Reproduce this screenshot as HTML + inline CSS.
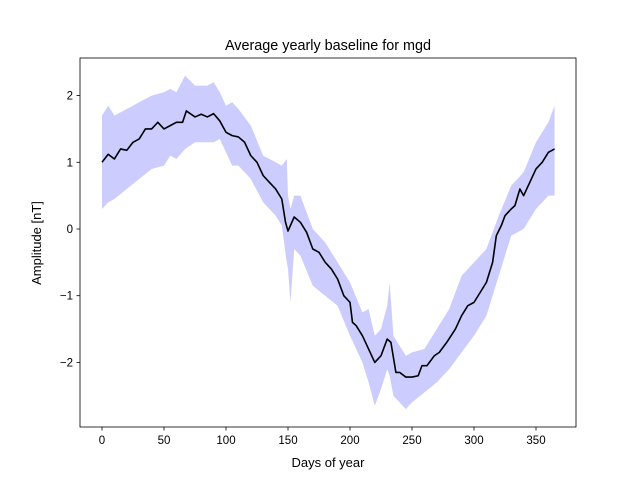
<!DOCTYPE html>
<html><head><meta charset="utf-8"><style>
body{margin:0;background:#fff;}
svg{display:block;font-family:"Liberation Sans","DejaVu Sans",sans-serif;}
</style></head><body>
<svg id="chart" width="640" height="480" viewBox="0 0 640 480">
<rect width="640" height="480" fill="#fff"/>
<text x="328" y="50" text-anchor="middle" font-size="14.4">Average yearly baseline for mgd</text>
<g id="plot"></g>
<text x="328" y="467" text-anchor="middle" font-size="13">Days of year</text>
<text transform="translate(41,243) rotate(-90)" text-anchor="middle" font-size="13">Amplitude [nT]</text>
</svg>
<script>
const meanDays=[0,5,10,15,20,25,30,35,40,45,50,55,60,65,68,75,80,85,90,95,100,105,110,115,120,125,130,135,140,145,148,150,155,160,165,170,175,180,185,190,195,200,202,205,210,215,220,225,230,233,237,240,245,250,255,258,262,268,272,278,285,290,295,300,305,310,315,318,322,325,330,333,337,340,345,350,355,360,365];
const meanVals=[1.0,1.12,1.05,1.2,1.18,1.3,1.35,1.5,1.5,1.6,1.5,1.55,1.6,1.6,1.77,1.68,1.72,1.68,1.73,1.62,1.45,1.4,1.38,1.3,1.1,1.0,0.8,0.7,0.6,0.45,0.1,-0.03,0.18,0.1,-0.05,-0.3,-0.35,-0.5,-0.6,-0.75,-1.0,-1.1,-1.4,-1.45,-1.6,-1.8,-2.0,-1.9,-1.65,-1.7,-2.15,-2.15,-2.22,-2.22,-2.2,-2.05,-2.05,-1.9,-1.85,-1.7,-1.5,-1.3,-1.15,-1.1,-0.95,-0.8,-0.5,-0.1,0.05,0.2,0.3,0.35,0.6,0.5,0.7,0.9,1.0,1.15,1.2];
const bandDays=[0,5,10,20,30,40,50,55,60,67,75,85,90,95,100,105,110,120,130,140,145,149,150,152,155,160,170,180,190,200,210,215,220,225,230,232,235,240,245,250,260,270,280,290,300,310,320,330,340,350,360,365];
const upperVals=[1.7,1.85,1.7,1.8,1.9,2.0,2.05,2.1,2.05,2.3,2.15,2.15,2.2,2.05,1.85,1.9,1.8,1.55,1.1,1.0,0.95,1.05,0.5,0.3,0.5,0.5,0,-0.2,-0.5,-0.8,-1.25,-1.2,-1.6,-1.5,-1.15,-0.8,-1.6,-1.75,-1.9,-1.85,-1.8,-1.5,-1.2,-0.7,-0.5,-0.3,0.2,0.65,0.85,1.3,1.6,1.85];
const lowerVals=[0.3,0.4,0.45,0.6,0.75,0.9,0.95,1.1,1.05,1.2,1.3,1.3,1.3,1.35,1.15,0.95,0.95,0.75,0.4,0.2,0.05,-0.5,-0.6,-1.1,-0.3,-0.4,-0.85,-1.0,-1.15,-1.6,-2.0,-2.3,-2.65,-2.4,-2.1,-2.2,-2.5,-2.6,-2.7,-2.6,-2.45,-2.3,-2.1,-1.85,-1.6,-1.3,-0.7,-0.1,0,0.3,0.5,0.5];
const xTicks=[0,50,100,150,200,250,300,350];
const yTicks=[-2,-1,0,1,2];

const L=80,R=576,T=58,B=427;
const xs=d=>102+d*1.24;
const ys=v=>229-v*66.7;
const NS="http://www.w3.org/2000/svg";
const g=document.getElementById('plot');
function mk(t,a){const e=document.createElementNS(NS,t);for(const k in a)e.setAttribute(k,a[k]);g.appendChild(e);return e;}

let pts=bandDays.map((d,i)=>xs(d)+','+ys(upperVals[i]));
for(let i=bandDays.length-1;i>=0;i--)pts.push(xs(bandDays[i])+','+ys(lowerVals[i]));
const band=mk('polygon',{points:pts.join(' '),fill:'#ccccff',stroke:'none'});



const line=mk('polyline',{points:meanDays.map((d,i)=>xs(d)+','+ys(meanVals[i])).join(' '),fill:'none',stroke:'#000','stroke-width':1.6,'stroke-linejoin':'round'});



const frame=mk('rect',{x:L,y:T,width:R-L,height:B-T,fill:'none',stroke:'#000','stroke-width':0.8});



xTicks.forEach(t=>{
  const x=xs(t);
  const tk=mk('line',{x1:x,x2:x,y1:B,y2:B+3.5,stroke:'#000','stroke-width':0.8});
  
  
  const lb=mk('text',{x:x,y:B+17,'text-anchor':'middle','font-size':11.5});
  lb.textContent=t;
  
  
});
yTicks.forEach(t=>{
  const y=ys(t);
  const tk=mk('line',{x1:L-3.5,x2:L,y1:y,y2:y,stroke:'#000','stroke-width':0.8});
  
  
  const lb=mk('text',{x:L-7,y:y+4,'text-anchor':'end','font-size':11.5});
  lb.textContent=t<0?'\u2212'+Math.abs(t):t;
  
  
});
</script>
</body></html>
